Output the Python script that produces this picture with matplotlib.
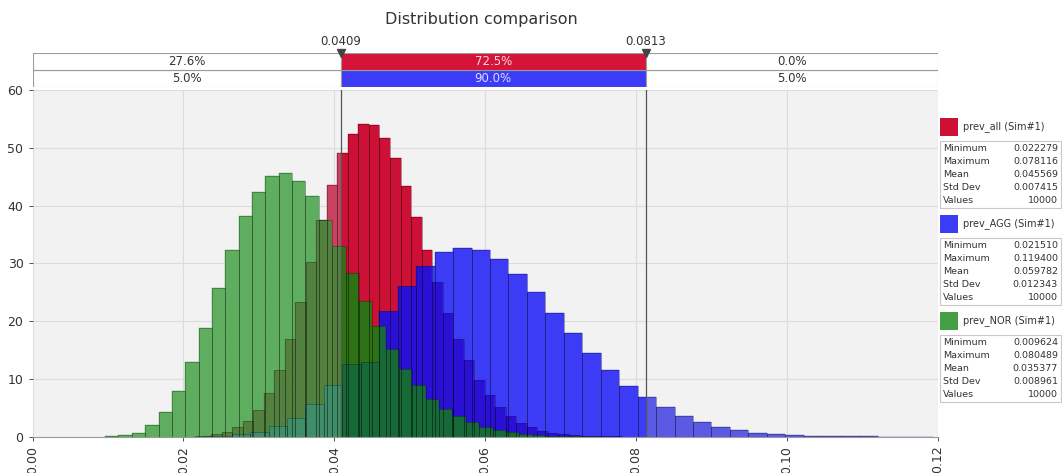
import numpy as np
import matplotlib
matplotlib.use("Agg")
import matplotlib.pyplot as plt
from matplotlib.patches import Rectangle

# summary statistics of the three simulated outputs
names = ["prev_all (Sim#1)", "prev_AGG (Sim#1)", "prev_NOR (Sim#1)"]
mins = [0.022279, 0.021510, 0.009624]
maxs = [0.078116, 0.119400, 0.080489]
means = [0.045569, 0.059782, 0.035377]
stds = [0.007415, 0.012343, 0.008961]
counts = [10000, 10000, 10000]

# probability density of each of the 40 equal-width bins (min..max)
dens_all = [0.2, 0.4, 0.9, 1.6, 2.7, 4.6, 7.5, 11.6, 17.0, 23.4,
            30.3, 37.5, 43.6, 49.1, 52.4, 54.1, 53.9, 51.7, 48.2, 43.4,
            38.0, 32.3, 26.8, 21.5, 17.0, 13.2, 9.8, 7.2, 5.2, 3.6,
            2.4, 1.6, 1.0, 0.7, 0.5, 0.3, 0.2, 0.15, 0.1, 0.05]
dens_agg = [0.05, 0.15, 0.4, 0.9, 1.8, 3.2, 5.6, 9.0, 12.6, 13.0,
            21.7, 26.1, 29.5, 31.9, 32.7, 32.3, 30.7, 28.2, 25.0, 21.5,
            18.0, 14.5, 11.5, 8.8, 6.8, 5.1, 3.6, 2.5, 1.7, 1.16,
            0.7, 0.47, 0.3, 0.2, 0.13, 0.08, 0.05, 0.03, 0.02, 0.01]
dens_nor = [0.1, 0.25, 0.7, 2.0, 4.2, 7.9, 12.9, 18.9, 25.8, 32.3,
            38.2, 42.4, 45.1, 45.6, 44.3, 41.6, 37.5, 33.0, 28.3, 23.5,
            19.1, 15.2, 11.7, 9.0, 6.6, 4.8, 3.5, 2.5, 1.7, 1.15,
            0.76, 0.47, 0.3, 0.2, 0.12, 0.08, 0.05, 0.03, 0.02, 0.01]

# delimiters and the share of each distribution in the three zones
cut_lo, cut_hi = 0.0409, 0.0813
pct_all = ["27.6%", "72.5%", "0.0%"]
pct_agg = ["5.0%", "90.0%", "5.0%"]

# colours of overlapping areas, key = (all, AGG, NOR) present
solid = {
    (1, 0, 0): "#cd1035", (0, 1, 0): "#3c3cf6", (0, 0, 1): "#4caa4c",
    (1, 1, 0): "#2a10d4", (1, 0, 1): "#2d7214", (0, 1, 1): "#176a45",
    (1, 1, 1): "#176a38",
}
shaded = {
    (1, 0, 0): "#c02a4c", (0, 1, 0): "#4444e2", (0, 0, 1): "#49a349",
    (1, 1, 0): "#3e30c8", (1, 0, 1): "#3b7026", (0, 1, 1): "#267d55",
    (1, 1, 1): "#267f55",
}
legend_colors = ["#cd1035", "#3c3cf6", "#45a045"]

W, H = 1062, 473
plt.rcParams["font.family"] = ["DejaVu Sans"]
plt.rcParams["hatch.linewidth"] = 0.5
fig = plt.figure(figsize=(W / 100, H / 100), dpi=100)

left, right = 32.5 / W, 937.5 / W
ax = fig.add_axes([left, (H - 436.7) / H, right - left, (436.7 - 90.2) / H])
ax.set_facecolor("#f2f2f2")

series = []
for lo, hi, d in zip(mins, maxs, [dens_all, dens_agg, dens_nor]):
    series.append((np.linspace(lo, hi, len(d) + 1), np.asarray(d)))

# split the x range at every bin edge so overlaps can be coloured
xs = np.unique(np.concatenate([e for e, _ in series] + [np.array([cut_lo, cut_hi])]))
for a, b in zip(xs[:-1], xs[1:]):
    m = 0.5 * (a + b)
    hs = []
    for e, d in series:
        k = np.searchsorted(e, m) - 1
        hs.append(d[k] if 0 <= k < len(d) else 0.0)
    inside = cut_lo <= m <= cut_hi
    pal = solid if inside else shaded
    bottom = 0.0
    for top in sorted(set(h for h in hs if h > 0)):
        key = tuple(int(h >= top) for h in hs)
        ax.bar(a, top - bottom, width=b - a, bottom=bottom, align="edge",
               color=pal[key], edgecolor=pal[key], lw=0.3, zorder=2)
        bottom = top
    if not inside and max(hs) > 0:
        ax.bar(a, max(hs), width=b - a, align="edge", fill=False, lw=0,
               hatch="x" * 20, edgecolor=(1, 1, 1, 0.12), zorder=3)

for e, d in series:
    ax.bar(e[:-1], d, width=np.diff(e), align="edge", fill=False,
           edgecolor=(0, 0, 0, 0.3), lw=0.6, zorder=4)

for c in (cut_lo, cut_hi):
    ax.axvline(c, color="#555555", lw=0.9, zorder=5)

ax.set_xlim(0, 0.12)
ax.set_ylim(0, 60)
ax.set_xticks(np.arange(0, 0.121, 0.02))
ax.set_yticks(np.arange(0, 61, 10))
ax.set_xticklabels([f"{v:.2f}" for v in np.arange(0, 0.121, 0.02)], rotation=90)
ax.tick_params(labelsize=9, colors="#333333", length=3, width=0.6)
ax.grid(True, color="#dcdcdc", lw=0.8)
ax.set_axisbelow(True)
for s in ax.spines.values():
    s.set_visible(False)
ax.spines["bottom"].set_visible(True)
ax.spines["bottom"].set_color("#9a9a9a")

# delimiter bar above the plot
bx = fig.add_axes([left, (H - 87) / H, right - left, 33.5 / H])
bx.set_xlim(0, 0.12)
bx.set_ylim(0, 2)
bx.axis("off")
zones = [(0, cut_lo), (cut_lo, cut_hi), (cut_hi, 0.12)]
for row, (pcts, col, tcol) in enumerate([(pct_agg, "#3c3cf6", "#dcdcff"),
                                        (pct_all, "#d41438", "#ffd8e0")]):
    for i, ((x0, x1), p) in enumerate(zip(zones, pcts)):
        fc = col if i == 1 else "white"
        bx.add_patch(Rectangle((x0, row), x1 - x0, 1, facecolor=fc,
                               edgecolor="#9a9a9a", lw=0.8))
        bx.text((x0 + x1) / 2, row + 0.5, p, ha="center", va="center",
                fontsize=8.5, color=tcol if i == 1 else "#333333")
for c in (cut_lo, cut_hi):
    bx.plot([c], [2.0], marker="v", color="#444444", ms=6, clip_on=False)
    bx.text(c, 2.35, f"{c:.4f}", ha="center", va="bottom", fontsize=8.5,
            color="#333333", clip_on=False)

fig.text(0.453, 0.958, "Distribution comparison", ha="center", va="center",
         fontsize=11.5, color="#333333")

# legend with statistics on the right
lg = fig.add_axes([0, 0, 1, 1])
lg.set_xlim(0, W)
lg.set_ylim(H, 0)
lg.axis("off")
labels = ["Minimum", "Maximum", "Mean", "Std Dev", "Values"]
for k in range(3):
    y0 = 118 + 97 * k
    lg.add_patch(Rectangle((940, y0), 18, 18, facecolor=legend_colors[k],
                           edgecolor="none"))
    lg.text(963, y0 + 9, names[k], ha="left", va="center", fontsize=7,
            color="#333333")
    lg.add_patch(Rectangle((940, y0 + 23), 121, 67, facecolor="white",
                           edgecolor="#c8c8c8", lw=0.8))
    vals = [f"{mins[k]:.6f}", f"{maxs[k]:.6f}", f"{means[k]:.6f}",
            f"{stds[k]:.6f}", f"{counts[k]}"]
    for j, (lab, v) in enumerate(zip(labels, vals)):
        yy = y0 + 30 + 13 * j
        lg.text(943, yy, lab, ha="left", va="center", fontsize=6.8, color="#333333")
        lg.text(1058, yy, v, ha="right", va="center", fontsize=6.8, color="#333333")

fig.savefig("out.png", dpi=100)
